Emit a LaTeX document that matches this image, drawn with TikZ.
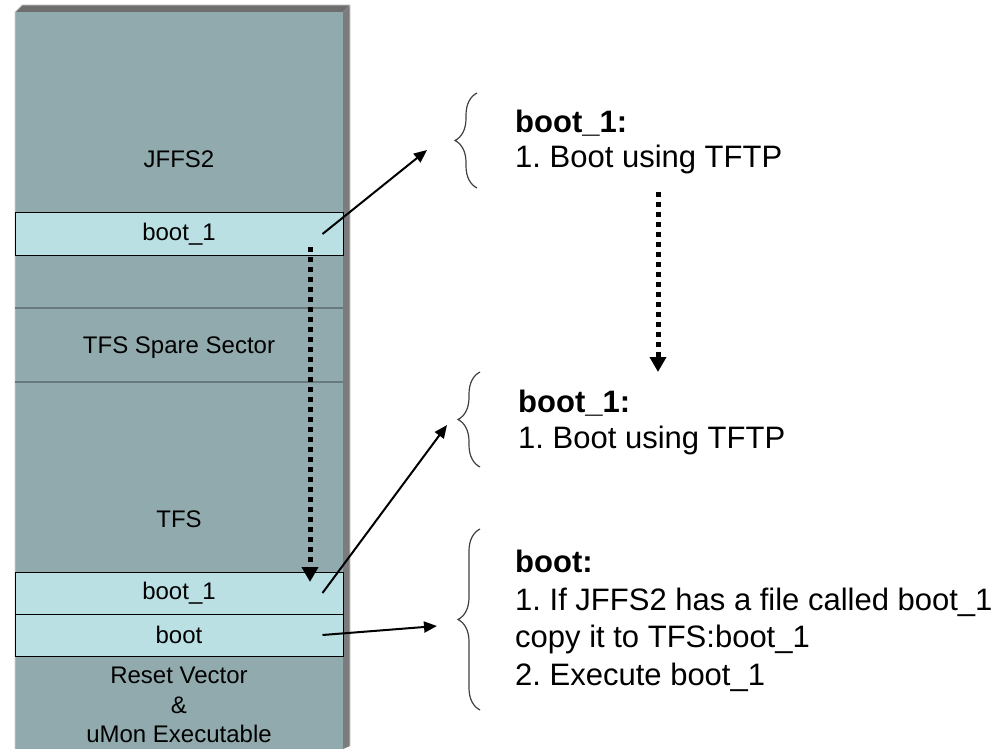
\documentclass[tikz,border=0pt]{standalone}
\usepackage{fontspec}
\setmainfont{Liberation Sans}
\usetikzlibrary{arrows.meta,decorations.pathreplacing,positioning}
\frenchspacing

\definecolor{flashgray}{RGB}{145,170,173}
\definecolor{slotcyan}{RGB}{186,224,228}
\definecolor{edgegray}{RGB}{110,110,110}
\definecolor{linegray}{RGB}{105,122,124}

\tikzset{
    slot/.style={draw=black, line width=1pt, fill=slotcyan, minimum width=328pt,
        minimum height=42pt, inner sep=0pt, font=\fontsize{24}{29}\selectfont},
    celltext/.style={anchor=base, inner sep=0pt, font=\fontsize{24}{29}\selectfont},
    note/.style={anchor=base west, inner sep=0pt, font=\fontsize{31}{36}\selectfont},
    notehead/.style={note, font=\fontsize{31}{36}\selectfont\bfseries},
    jump/.style={-{Triangle[length=13pt,width=11pt]}, line width=2pt},
    copyarrow/.style={-{Triangle[length=15pt,width=16pt]}, line width=5pt,
        dash pattern=on 5pt off 5pt},
    notebrace/.style={decorate, decoration={brace, amplitude=22pt},
        draw=black!75, line width=1.2pt}
}

\begin{document}
\begin{tikzpicture}[x=1pt, y=-1pt]
        \useasboundingbox (0,0) rectangle (1005,749);

        % Flash column with its bevel
        \fill[flashgray] (15,12) rectangle (343,749);
        \fill[edgegray] (15,12) -- (22,5) -- (350,5) -- (343,12) -- cycle;
        \fill[edgegray!90] (343,12) -- (350,5) -- (350,746) -- (343,749) -- cycle;
        \draw[gray!35, line width=0.8pt] (15,749) -- (15,12) -- (22,5) -- (350,5) -- (350,746);
        \draw[linegray, line width=1.5pt] (15,308) -- (343,308);
        \draw[linegray, line width=1.5pt] (15,382) -- (343,382);

        % Regions of the flash
        \node[celltext] (jffs) at (179,168) {JFFS2};
        \node[celltext] (spare) at (179,353) {TFS Spare Sector};
        \node[celltext] (tfs) at (179,527) {TFS};
        \node[celltext] (reset) at (179,683) {Reset Vector};
        \node[celltext] (amp) at (179,713) {\&};
        \node[celltext] (umon) at (179,742) {uMon Executable};

        % Files
        \node[slot] (jboot) at (179,234) {boot\_1};
        \node[slot] (tboot) at (179,593) {boot\_1};
        \node[slot] (boot) at (179,635) {boot};

        % Notes on the right
        \node[notehead] (h1) at (515,133) {boot\_1:};
        \node[note] (s1) at (515,168) {1. Boot using TFTP};
        \node[notehead] (h2) at (518,412) {boot\_1:};
        \node[note] (s2) at (518,448) {1. Boot using TFTP};
        \node[notehead] (h3) at (515,572) {boot:};
        \node[note] (s3a) at (515,610) {1. If JFFS2 has a file called boot\_1};
        \node[note] (s3b) at (515,647) {copy it to TFS:boot\_1};
        \node[note] (s3c) at (515,685) {2. Execute boot\_1};

        % Braces
        \draw[notebrace] (477,188) -- (477,93);
        \draw[notebrace] (480,467) -- (480,372);
        \draw[notebrace] (480,710) -- (480,529);

        % Arrows from the files to the notes
        \coordinate (a1) at (427,150);
        \coordinate (a2) at (447,425);
        \coordinate (a3) at (437,626);
        \draw[jump] ([xshift=-21pt]jboot.east) -- (a1);
        \draw[jump] ([xshift=-21pt]tboot.east) -- (a2);
        \draw[jump] ([xshift=-21pt]boot.east) -- (a3);

        % Copy arrows
        \coordinate (cfrom) at (310,247);
        \coordinate (cto) at (310,582);
        \coordinate (nfrom) at (658,192);
        \coordinate (nto) at (658,372);
        \draw[copyarrow] (cfrom) -- (cto);
        \draw[copyarrow] (nfrom) -- (nto);
    \end{tikzpicture}
\end{document}
